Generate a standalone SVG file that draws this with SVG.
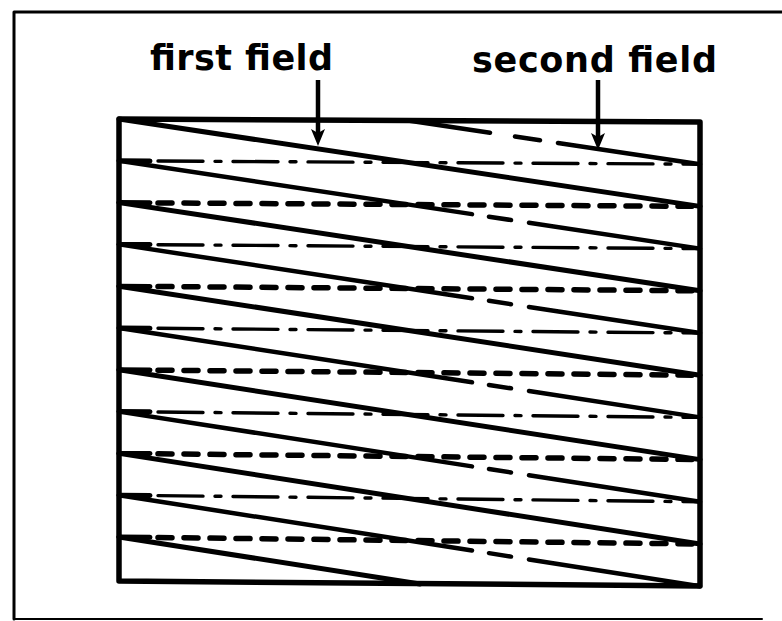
<svg xmlns="http://www.w3.org/2000/svg" width="782" height="621" viewBox="0 0 782 621">
<style>
  .frame{fill:none;stroke:#000;stroke-linecap:round;stroke-linejoin:round}
  .t1{fill:none;stroke:#000;stroke-width:5;stroke-linecap:round}
  .t2{fill:none;stroke:#000;stroke-width:4.5;stroke-linecap:round}
  .lead{fill:none;stroke:#000;stroke-width:5;stroke-linecap:round}
  .dash{fill:none;stroke:#000;stroke-width:5.5;stroke-linecap:round;stroke-dasharray:14 12}
  .dd{fill:none;stroke:#000;stroke-width:3.4;stroke-linecap:round;stroke-dasharray:45 12 6 12}
  .lbl{font-family:"DejaVu Sans","Liberation Sans",sans-serif;font-weight:bold;font-size:35px;fill:#000}
  .arrow{fill:none;stroke:#000;stroke-width:4.5}
</style>
<defs>
  <marker id="ah" markerUnits="userSpaceOnUse" markerWidth="18" markerHeight="16" refX="7" refY="7" orient="auto">
    <path d="M0,0 L17,7 L0,14 L4,7 Z" fill="#000"/>
  </marker>
</defs>
<rect width="782" height="621" fill="#fff"/>

<g id="outer-frame">
  <path class="frame" stroke-width="3" d="M14,619 L14,12 L782,12"/>
  <path class="frame" stroke-width="2" stroke="#222" d="M14,619 L762,619"/>
</g>

<g id="raster">
  <path class="frame" stroke-width="5.5" d="M119,119 L700,122 L700,586 L119,581 Z"/>
</g>

<g id="first-field-traces">
  <path class="t1" d="M119,119 L700,206.4"/>
  <path class="t1" d="M119,202.6 L700,290.8"/>
  <path class="t1" d="M119,286.2 L700,375.2"/>
  <path class="t1" d="M119,369.8 L700,459.6"/>
  <path class="t1" d="M119,453.4 L700,544"/>
  <path class="t1" d="M119,537 L420,584"/>
</g>

<g id="second-field-traces">
  <path class="t2" d="M408,120.5 L490,132.75 M515,136.5 L540,140.24 M558,142.94 L700,164.2"/>
  <path class="t2" d="M119,160.8 L472,214.15 M489,216.71 L511,220.04 M529,222.76 L700,248.6"/>
  <path class="t2" d="M119,244.4 L472,298.23 M489,300.82 L511,304.18 M529,306.92 L700,333"/>
  <path class="t2" d="M119,328 L472,382.32 M489,384.93 L511,388.32 M529,391.09 L700,417.4"/>
  <path class="t2" d="M119,411.6 L472,466.4 M489,469.04 L511,472.46 M529,475.25 L700,501.8"/>
  <path class="t2" d="M119,495.2 L472,550.49 M489,553.15 L511,556.6 M529,559.42 L700,586.2"/>
</g>

<g id="retrace-lines">
  <path class="lead" d="M119,160.8 L150,161 M119,202.6 L150,202.8 M119,244.4 L150,244.6 M119,286.2 L150,286.4 M119,328 L150,328.2 M119,369.8 L150,370 M119,411.6 L150,411.8 M119,453.4 L150,453.6 M119,495.2 L150,495.4 M119,537 L150,537.2"/>
  <path class="dd" d="M158,161 L700,164.2"/>
  <path class="dash" d="M158,202.9 L700,206.4"/>
  <path class="dd" d="M158,244.7 L700,248.6"/>
  <path class="dash" d="M158,286.5 L700,290.8"/>
  <path class="dd" d="M158,328.3 L700,333"/>
  <path class="dash" d="M158,370.2 L700,375.2"/>
  <path class="dd" d="M158,412 L700,417.4"/>
  <path class="dash" d="M158,453.8 L700,459.6"/>
  <path class="dd" d="M158,495.6 L700,501.8"/>
  <path class="dash" d="M158,537.5 L700,544"/>
</g>

<g id="label-first-field">
  <text class="lbl" x="150" y="70" textLength="183" lengthAdjust="spacing">first field</text>
</g>
<g id="label-second-field">
  <text class="lbl" x="472" y="72" textLength="245" lengthAdjust="spacing">second field</text>
</g>

<g id="connectors">
  <path class="arrow" d="M318,80 L318,136" marker-end="url(#ah)"/>
  <path class="arrow" d="M598,80 L598,140" marker-end="url(#ah)"/>
</g>
</svg>
